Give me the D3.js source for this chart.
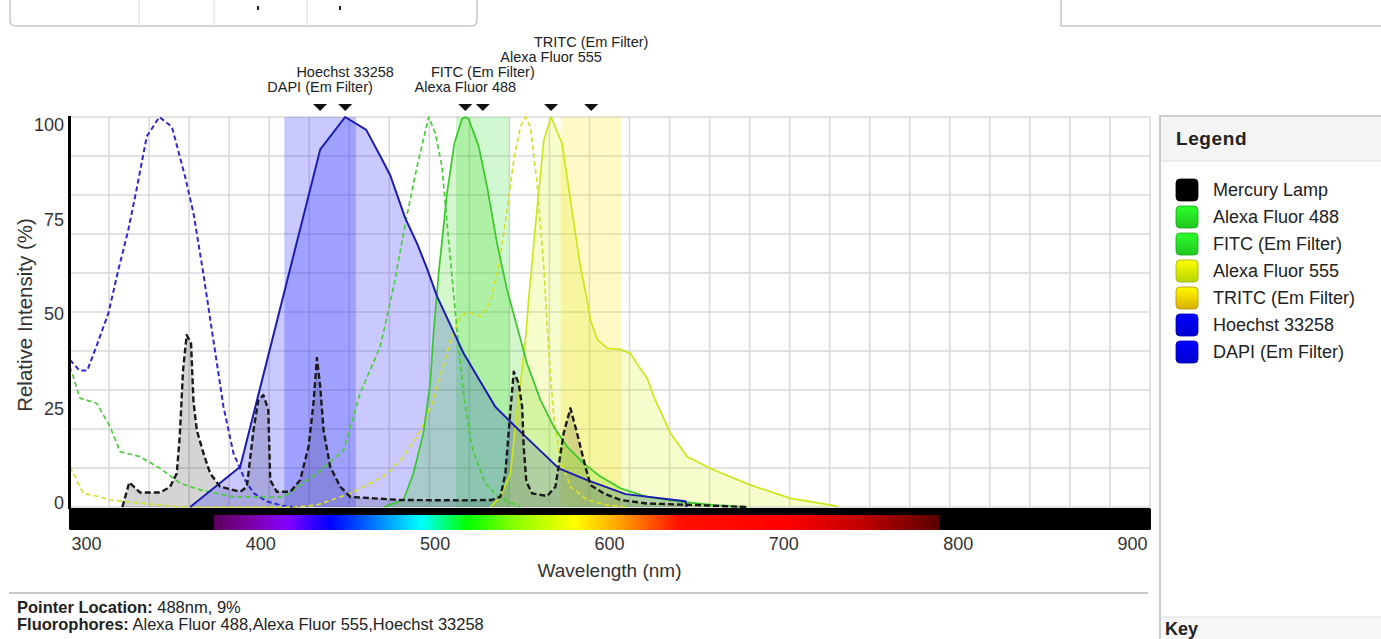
<!DOCTYPE html>
<html>
<head>
<meta charset="utf-8">
<script src="https://cdn.jsdelivr.net/npm/d3@7"></script>
<style>
  body { margin: 0; background: #fff; }
  svg { display: block; font-family: "Liberation Sans", Arial, sans-serif; }
</style>
</head>
<body>
<svg id="chart" width="1381" height="639"></svg>
<script>
// ---- data (wavelength nm, relative intensity %) ----
const wavelengthTicks = [300, 400, 500, 600, 700, 800, 900];
const intensityTicks = [0, 25, 50, 75, 100];

const mercuryLamp = [[320.6,0],[324.6,6.3],[330.8,3.7],[342.2,3.7],[348,5.2],[351.8,8.6],[353.5,18],[355.4,35],[357.5,44.1],[360,42],[361.4,27],[363.3,19.7],[367.1,13.8],[371,8.6],[376.7,5.2],[388.2,3.9],[392,5.2],[395.8,19.7],[398.6,27.4],[401.5,28.7],[404.3,24.9],[405.4,6.9],[409.2,3.9],[416.9,3.9],[422.6,6.9],[427.4,15.5],[430.2,26.6],[432.2,38.2],[434.1,30.8],[436,19.7],[439.8,10.3],[445.6,5.2],[451.3,2.6],[480,1.8],[514.5,1.7],[532.6,1.8],[537.4,2.6],[540.3,8.7],[543.2,24.9],[545.1,34.7],[547.9,31.7],[549.9,25.7],[550.8,15.5],[552.3,6.5],[555.6,3.5],[564.2,2.8],[569,5.2],[573.7,18.9],[577.6,25.3],[581.4,18.9],[586.2,10.3],[589.1,5.6],[596.7,3.5],[606.3,1.8],[621.6,0.9],[650,0.5],[679,0]];

const hoechstEx = [[290.6,37.7],[296,35],[300.5,35],[306,41.5],[312.6,49.7],[318.3,60.8],[324,71],[329,82],[334.6,95],[341.8,100],[349,97.5],[356.6,84.7],[361.4,75.3],[367,60],[372.8,42.8],[378.6,25.7],[384.3,13.8],[391,6.9],[395.8,3.6],[403.5,1.4],[412.8,0.3],[420,0]];
const hoechstEm = [[359.5,0],[388.2,10.3],[434.1,91.7],[448.4,100],[460.5,96.7],[468.5,90],[474.3,85],[482.9,74],[489.6,67.6],[495.3,61.2],[501.1,54],[516.3,39.4],[534.5,25.7],[550.8,18.5],[570.9,9.9],[587.2,6.9],[609.2,3.3],[643.6,1.5],[644.2,0]];

const af488Ex = [[290.6,36],[296.3,27.9],[305.9,26.6],[313.5,20.6],[319.3,14.2],[330.8,12.9],[342.2,9.9],[353.7,6.1],[365.2,4.4],[384.3,2.6],[413,2.6],[432.2,8.6],[447.5,14.6],[457,29.2],[468.5,41.1],[476.2,56.5],[482.9,72.7],[489.6,87.3],[496.3,100],[500.1,95.8],[503.9,87.3],[507.7,68.5],[512.4,46],[516.7,27.4],[521.3,15],[528.8,6],[536.3,2.5],[548.9,0]];
const af488Em = [[470.4,0],[481.8,1.8],[487.6,8.7],[493.3,19],[497.2,31.8],[499.1,44.6],[502,59.9],[506.8,80.4],[511,93.2],[515.4,99.5],[517.3,100],[519.2,99.5],[525,92.4],[529.8,82.1],[535.5,67.6],[541.3,55.6],[547,46.2],[552.7,36.8],[560.4,27.4],[568,20.6],[575.7,15.5],[585.2,11.2],[594.8,7.8],[606.3,4.8],[621.6,2.6],[640.7,1.4],[659.9,0.5],[679,0]];

const af555Ex = [[290.6,10.3],[298.2,3.5],[307.8,2.6],[313.5,1.8],[342.2,0.5],[353.7,0],[420,0],[432.2,0.5],[451.3,3.5],[470.4,7.8],[480,11.8],[491.5,19.3],[499,27.4],[508.7,42.5],[514.5,49],[519.2,50],[525.9,48.8],[531.7,52.6],[536.4,61.6],[541.3,76.2],[545.1,89],[548.9,97.5],[551.8,100],[554.6,97.5],[558.5,83],[562.3,61.6],[565.1,40.3],[568,23.2],[571.9,12],[577.6,5.2],[587.2,1.8],[598.7,0.5],[610,0]];
const af555Em = [[531.7,0],[537.4,2.6],[543.2,8.6],[546,20.6],[548.9,31.7],[551.8,42.8],[553.6,53],[557.5,72],[562.3,94],[566.5,100],[572.8,93.2],[577.6,78.7],[583.3,61.6],[587.2,53],[589.1,47.9],[592.9,43],[598.7,40.7],[606.3,40.4],[612,39.4],[616.8,36],[621.6,33],[625.4,28.3],[635,18.9],[644.6,12.9],[659.9,9.5],[681,5.6],[703.9,2.2],[729.7,0.3],[731,0]];

// emission filter pass bands (nm)
const dapiFilter = [413.5, 454.5];
const fitcFilter = [512, 542.7];
const tritcFilter = [572, 607];

// visible spectrum bar
const spectrumRange = [373, 789];
const spectrumStops = [[373,"#5a005e"],[395,"#7d00a8"],[415,"#8400ff"],[440,"#0000ff"],[465,"#0078ff"],[492,"#00ffff"],[518,"#00ff00"],[545,"#88ff00"],[580,"#ffff00"],[608,"#ff9a00"],[640,"#ff1000"],[700,"#ff0000"],[745,"#c00000"],[789,"#5a0000"]];

const legendNames = ["Mercury Lamp","Alexa Fluor 488","FITC (Em Filter)","Alexa Fluor 555","TRITC (Em Filter)","Hoechst 33258","DAPI (Em Filter)"];
const legendColors = ["#000000","#22dd22","#22dd22","#ccee00","#f2c400","#0000e6","#0000e6"];

// ---- setup ----
const svg = d3.select("#chart");
const plot = { left: 69, right: 1150, top: 117, bottom: 507 };
const x = d3.scaleLinear().domain([290, 910]).range([plot.left, plot.right]);
const y = d3.scaleLinear().domain([0, 100]).range([plot.bottom, plot.top]);
const yLabel = d3.scaleLinear().domain([0, 100]).range([503, 125]);

const defs = svg.append("defs");
defs.append("clipPath").attr("id", "clip")
  .append("rect").attr("x", plot.left).attr("y", plot.top - 2)
  .attr("width", plot.right - plot.left).attr("height", plot.bottom - plot.top + 3);

// ---- page chrome ----
svg.append("path").attr("d", "M10,-5V20Q10,26 16,26H471Q477,26 477,20V-5")
  .attr("fill", "none").attr("stroke", "#c8c8c8").attr("stroke-width", 1.5);
[139, 214, 307].forEach(px => svg.append("line").attr("x1", px).attr("x2", px)
  .attr("y1", 0).attr("y2", 26).attr("stroke", "#dcdcdc"));
[257, 339].forEach(px => svg.append("rect").attr("x", px).attr("y", 6)
  .attr("width", 2).attr("height", 4).attr("fill", "#222"));
svg.append("path").attr("d", "M1061,0V26H1381").attr("fill", "none")
  .attr("stroke", "#c4c4c4").attr("stroke-width", 1.5);

// ---- grid ----
const grid = svg.append("g").attr("stroke", "#d9d9d9").attr("stroke-width", 1.5);
d3.range(28).forEach(i => {
  const gx = plot.left + i * (plot.right - plot.left) / 27;
  grid.append("line").attr("x1", gx).attr("x2", gx).attr("y1", plot.top).attr("y2", plot.bottom);
});
d3.range(0, 101, 10).forEach(v => {
  grid.append("line").attr("x1", plot.left).attr("x2", plot.right).attr("y1", y(v)).attr("y2", y(v));
});

const g = svg.append("g").attr("clip-path", "url(#clip)");

// filter bands
const bands = [
  { range: dapiFilter, color: "rgba(40,40,255,0.25)" },
  { range: fitcFilter, color: "rgba(0,215,0,0.18)" },
  { range: tritcFilter, color: "rgba(255,222,0,0.22)" }
];
g.selectAll(".band").data(bands).enter().append("rect")
  .attr("x", d => x(d.range[0])).attr("width", d => x(d.range[1]) - x(d.range[0]))
  .attr("y", plot.top).attr("height", plot.bottom - plot.top)
  .attr("fill", d => d.color);

const area = d3.area().x(d => x(d[0])).y0(y(0)).y1(d => y(d[1]));
const line = d3.line().x(d => x(d[0])).y(d => y(d[1]));

const fills = [
  { data: mercuryLamp, color: "rgba(0,0,0,0.17)" },
  { data: hoechstEm, color: "rgba(40,40,255,0.25)" },
  { data: af488Em, color: "rgba(40,210,0,0.2)" },
  { data: af555Em, color: "rgba(215,240,0,0.2)" }
];
fills.forEach(f => g.append("path").datum(f.data).attr("d", area).attr("fill", f.color));

const lines = [
  { data: hoechstEx, color: "#2a2ad0", w: 2, dash: "5,3" },
  { data: af488Ex, color: "#4ccd3a", w: 1.7, dash: "5,3" },
  { data: af555Ex, color: "#d6e02a", w: 1.7, dash: "5,3" },
  { data: af555Em, color: "#cde61a", w: 1.7, dash: null },
  { data: af488Em, color: "#38c82a", w: 1.7, dash: null },
  { data: hoechstEm, color: "#1c1cae", w: 2, dash: null },
  { data: mercuryLamp, color: "#1a1a1a", w: 2.4, dash: "6,3" }
];
lines.forEach(l => g.append("path").datum(l.data).attr("d", line)
  .attr("fill", "none").attr("stroke", l.color).attr("stroke-width", l.w)
  .attr("stroke-dasharray", l.dash).attr("stroke-linejoin", "round"));

// ---- spectrum bar & axes ----
svg.append("rect").attr("x", plot.left).attr("y", 508).attr("width", plot.right - plot.left + 1)
  .attr("height", 22).attr("rx", 1.5).attr("fill", "#000");
const spec = defs.append("linearGradient").attr("id", "spectrum")
  .attr("gradientUnits", "userSpaceOnUse")
  .attr("x1", x(spectrumRange[0])).attr("x2", x(spectrumRange[1])).attr("y1", 0).attr("y2", 0);
spectrumStops.forEach(s => spec.append("stop")
  .attr("offset", (s[0] - spectrumRange[0]) / (spectrumRange[1] - spectrumRange[0]))
  .attr("stop-color", s[1]));
svg.append("rect").attr("x", x(spectrumRange[0])).attr("y", 515)
  .attr("width", x(spectrumRange[1]) - x(spectrumRange[0])).attr("height", 15)
  .attr("fill", "url(#spectrum)");

svg.append("line").attr("x1", plot.left + 0.5).attr("x2", plot.left + 0.5)
  .attr("y1", plot.top - 1).attr("y2", 509).attr("stroke", "#000").attr("stroke-width", 3);

svg.append("g").selectAll("text").data(intensityTicks).enter().append("text")
  .attr("x", 64).attr("y", d => yLabel(d)).attr("dy", "0.35em")
  .attr("text-anchor", "end").attr("font-size", 18).attr("fill", "#333").text(d => d);

svg.append("g").selectAll("text").data(wavelengthTicks).enter().append("text")
  .attr("x", d => x(d)).attr("y", 550).attr("text-anchor", "middle")
  .attr("font-size", 18).attr("fill", "#333").text(d => d);

svg.append("text").attr("x", (plot.left + plot.right) / 2).attr("y", 577)
  .attr("text-anchor", "middle").attr("font-size", 19).attr("fill", "#333")
  .text("Wavelength (nm)");
svg.append("text").attr("transform", `translate(32,${(plot.top + plot.bottom) / 2 + 3}) rotate(-90)`)
  .attr("text-anchor", "middle").attr("font-size", 20.5).attr("fill", "#333")
  .text("Relative Intensity (%)");

// ---- peak markers ----
const peakOf = d => d3.greatest(d, p => p[1])[0];
const markers = [
  { name: "DAPI (Em Filter)", nm: d3.mean(dapiFilter) },
  { name: "Hoechst 33258", nm: peakOf(hoechstEm) },
  { name: "Alexa Fluor 488", nm: peakOf(af488Em) },
  { name: "FITC (Em Filter)", nm: d3.mean(fitcFilter) },
  { name: "Alexa Fluor 555", nm: peakOf(af555Em) },
  { name: "TRITC (Em Filter)", nm: d3.mean(tritcFilter) }
];
const mk = svg.append("g");
let prev = null;
markers.forEach(m => {
  const mx = x(m.nm);
  mk.append("path").attr("d", `M${mx - 7},104L${mx + 7},104L${mx},111Z`).attr("fill", "#111");
  const t = mk.append("text").attr("x", mx).attr("text-anchor", "middle")
    .attr("font-size", 14.5).attr("fill", "#222").text(m.name);
  const w = t.node().getComputedTextLength();
  m.x0 = mx - w / 2; m.x1 = mx + w / 2;
  m.level = (prev && m.x0 < prev.x1 + 2) ? prev.level + 1 : 0;
  t.attr("y", 92 - m.level * 15);
  prev = m;
});

// ---- pointer info ----
svg.append("line").attr("x1", 9).attr("x2", 1148).attr("y1", 593).attr("y2", 593)
  .attr("stroke", "#c8c8c8").attr("stroke-width", 2);
const info = [["Pointer Location:", " 488nm, 9%", 613], ["Fluorophores:", " Alexa Fluor 488,Alexa Fluor 555,Hoechst 33258", 630]];
info.forEach(r => {
  const t = svg.append("text").attr("x", 17).attr("y", r[2]).attr("font-size", 16.5).attr("fill", "#222");
  t.append("tspan").attr("font-weight", "bold").text(r[0]);
  t.append("tspan").text(r[1]);
});

// ---- legend panel ----
svg.append("rect").attr("x", 1160).attr("y", 116).attr("width", 230).attr("height", 45)
  .attr("fill", "#f4f4f4");
svg.append("line").attr("x1", 1160).attr("x2", 1381).attr("y1", 161).attr("y2", 161).attr("stroke", "#dedede");
svg.append("path").attr("d", "M1160,639V116H1381").attr("fill", "none")
  .attr("stroke", "#cccccc").attr("stroke-width", 2);
svg.append("text").attr("x", 1176).attr("y", 145).attr("font-size", 19).attr("font-weight", "bold")
  .attr("letter-spacing", 0.6).attr("fill", "#222").text("Legend");

legendColors.forEach((c, i) => {
  const gr = defs.append("linearGradient").attr("id", "sw" + i).attr("x1", 0).attr("x2", 0).attr("y1", 0).attr("y2", 1);
  gr.append("stop").attr("offset", 0).attr("stop-color", d3.color(c).brighter(0.7));
  gr.append("stop").attr("offset", 1).attr("stop-color", d3.color(c).darker(0.3));
});
const lg = svg.append("g").selectAll("g").data(legendNames).enter().append("g")
  .attr("transform", (d, i) => `translate(1176,${190 + i * 27})`);
lg.append("rect").attr("x", 0).attr("y", -11).attr("width", 22).attr("height", 22).attr("rx", 4)
  .attr("fill", (d, i) => `url(#sw${i})`).attr("stroke", (d, i) => d3.color(legendColors[i]).darker(0.8))
  .attr("stroke-width", 0.8);
lg.append("text").attr("x", 37).attr("y", 0).attr("dy", "0.35em").attr("font-size", 18)
  .attr("fill", "#222").text(d => d);

svg.append("rect").attr("x", 1161).attr("y", 617).attr("width", 220).attr("height", 22).attr("fill", "#f7f7f7");
svg.append("line").attr("x1", 1160).attr("x2", 1381).attr("y1", 617).attr("y2", 617).attr("stroke", "#dedede");
svg.append("text").attr("x", 1165).attr("y", 635).attr("font-size", 18).attr("font-weight", "bold")
  .attr("fill", "#222").text("Key");
</script>
</body>
</html>
